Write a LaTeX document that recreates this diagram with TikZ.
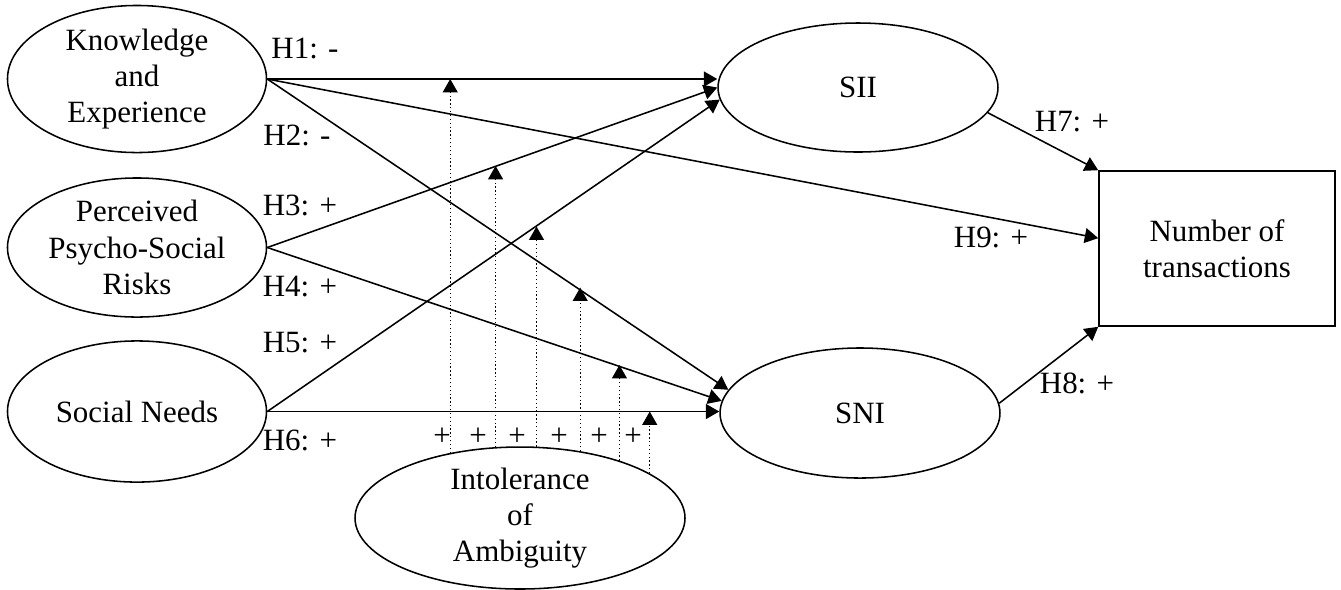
\documentclass[tikz,border=0pt]{standalone}
\usepackage{fontspec}
\setmainfont{Liberation Serif}
\usetikzlibrary{shapes.geometric,arrows.meta,calc}

\begin{document}
\begin{tikzpicture}
  [x=0.3876pt,y=-0.3876pt,
   font=\fontsize{12}{14}\selectfont,
   construct/.style={ellipse,draw,line width=0.6pt,inner sep=0pt,align=center,minimum width=100.4pt},
   hyp/.style={-{Triangle[length=5.2pt,width=5.8pt]},line width=0.6pt},
   moderate/.style={-{Triangle[length=5.2pt,width=5.8pt]},densely dotted,line width=0.5pt}]

  \useasboundingbox (0,0) rectangle (1341,589);

  \node[construct,minimum height=57pt] (ke) at (137,79) {Knowledge\\and\\Experience};
  \node[construct,minimum height=53.9pt] (pr) at (137,247.5) {Perceived\\Psycho-Social\\Risks};
  \node[construct,minimum height=54.7pt] (sn) at (137,411.5) {Social Needs};
  \node[construct,minimum width=108.5pt,minimum height=50pt] (sii) at (858,87.5) {SII};
  \node[construct,minimum width=108.5pt,minimum height=50.4pt] (sni) at (860,413) {SNI};
  \node[draw,line width=0.6pt,align=center,minimum width=91.5pt,minimum height=60.1pt] (nt) at (1217,248.5) {Number of\\transactions};
  \node[construct,minimum width=127.9pt,minimum height=52.7pt] (ia) at (520,518) {Intolerance\\of\\Ambiguity};

  % hypothesis labels
  \node (h1) at (305,48) {H1: -};
  \node (h2) at (297,135) {H2: -};
  \node (h3) at (300,205) {H3: +};
  \node (h4) at (300,287) {H4: +};
  \node (h5) at (300,343) {H5: +};
  \node (h6) at (300,440) {H6: +};
  \node (h7) at (1072,122) {H7: +};
  \node (h8) at (1077,383) {H8: +};
  \node (h9) at (991,237) {H9: +};
  \foreach \x [count=\i] in {442,478,517,559,599,633}
    \node (p\i) at (\x,437) {+};

  \coordinate (k1) at (ke.east -| sii.west);
  \coordinate (s6) at (sn.east -| sni.west);
  \foreach \from/\to in {ke.east/k1,ke.east/nt.175,ke.east/sni.170,pr.east/sii.west,pr.east/sni.175,sn.east/sii.185,sn.east/s6,sii.349/nt.north west,sni.4/nt.south west}
    \draw[hyp] (\from) -- (\to);

  % moderating effects
  \coordinate (m1) at ($(ke.east)!0.412!(k1)$);
  \coordinate (m2) at ($(pr.east)!0.510!(sii.west)$);
  \coordinate (m3) at ($(sn.east)!0.593!(sii.185)$);
  \coordinate (m4) at ($(ke.east)!0.671!(sni.170)$);
  \coordinate (m5) at ($(pr.east)!0.766!(sni.175)$);
  \coordinate (m6) at ($(sn.east)!0.839!(s6)$);
  \foreach \m/\a in {m1/137,m2/109,m3/77,m4/48,m5/30,m6/19}
    \draw[moderate] (ia.\a) -- (ia.\a |- \m);
\end{tikzpicture}
\end{document}
